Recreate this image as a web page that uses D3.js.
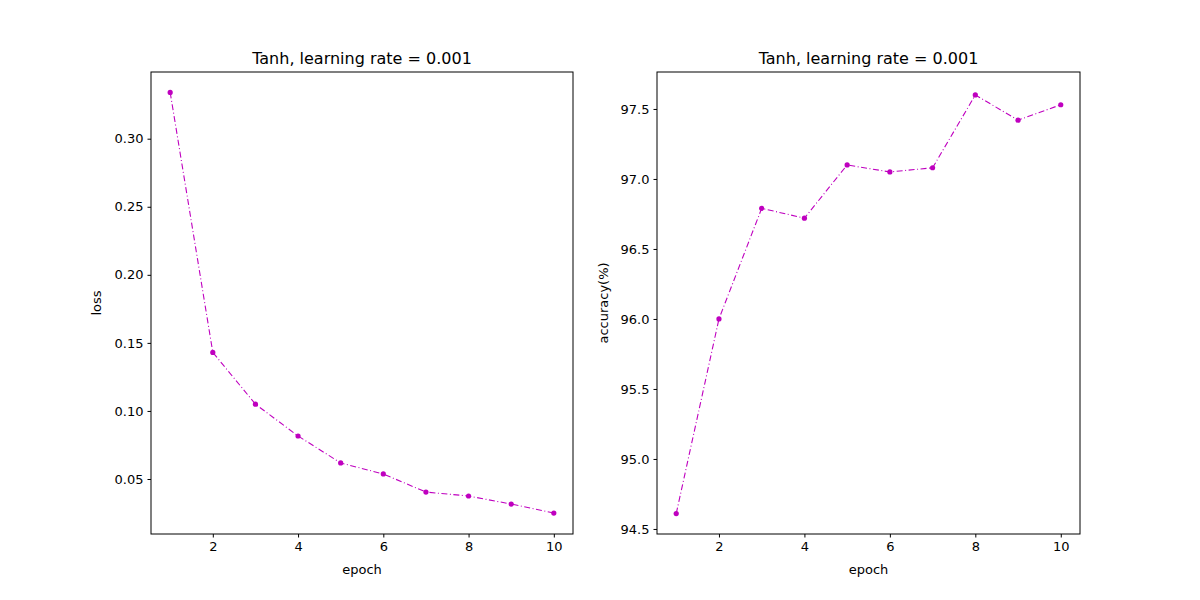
<!DOCTYPE html>
<html><head><meta charset="utf-8">
<script src="https://cdn.jsdelivr.net/npm/d3@7"></script>
<style>body{margin:0;background:#fff}text{font-family:"DejaVu Sans",sans-serif}</style>
</head><body><svg id="c" width="1200" height="600"></svg>
<script>
const epochs=[1,2,3,4,5,6,7,8,9,10];
const loss=[0.334,0.143,0.105,0.0816,0.0618,0.0537,0.0404,0.0375,0.0316,0.025];
const acc=[94.61,96.0,96.79,96.72,97.1,97.05,97.08,97.6,97.42,97.53];
const lossTicks=[0.05,0.10,0.15,0.20,0.25,0.30];
const accTicks=[94.5,95.0,95.5,96.0,96.5,97.0,97.5];
const xTicks=[2,4,6,8,10];
const title="Tanh, learning rate = 0.001";
const svg=d3.select("#c");
function panel(x0,x1,ydom,vals,ticks,fmt,ylabel){
  const top=72,bot=534;
  const x=d3.scaleLinear().domain([0.55,10.45]).range([x0,x1]);
  const y=d3.scaleLinear().domain(ydom).range([bot,top]);
  const g=svg.append("g");
  const xa=g.append("g").attr("transform",`translate(0,${bot})`).call(d3.axisBottom(x).tickValues(xTicks).tickSize(3.5).tickPadding(4));
  const ya=g.append("g").attr("transform",`translate(${x0},0)`).call(d3.axisLeft(y).tickValues(ticks).tickFormat(fmt).tickSize(3.5).tickPadding(4));
  [xa,ya].forEach(a=>{a.selectAll("text").attr("font-size",13).attr("fill","#000").style("font-family","DejaVu Sans");a.select(".domain").remove();});
  g.append("rect").attr("x",x0).attr("y",top).attr("width",x1-x0).attr("height",bot-top).attr("fill","none").attr("stroke","#000").attr("stroke-width",1);
  g.append("path").datum(vals).attr("fill","none").attr("stroke","#bf00bf").attr("stroke-width",1.1).attr("stroke-dasharray","6,2.5,1,2.5")
   .attr("d",d3.line().x((d,i)=>x(epochs[i])).y(d=>y(d)));
  g.selectAll("circle").data(vals).join("circle").attr("cx",(d,i)=>x(epochs[i])).attr("cy",d=>y(d)).attr("r",2.6).attr("fill","#bf00bf");
  g.append("text").attr("x",(x0+x1)/2).attr("y",64).attr("text-anchor","middle").attr("font-size",16).text(title);
  g.append("text").attr("x",(x0+x1)/2).attr("y",574).attr("text-anchor","middle").attr("font-size",13).text("epoch");
  g.append("text").attr("transform",`translate(${ylabel[1]},${(top+bot)/2}) rotate(-90)`).attr("text-anchor","middle").attr("font-size",13).text(ylabel[0]);
}
panel(151,573,[0.0096,0.349],loss,lossTicks,d3.format(".2f"),["loss",101]);
panel(657,1080,[94.464,97.764],acc,accTicks,d3.format(".1f"),["accuracy(%)",608]);
</script></body></html>
